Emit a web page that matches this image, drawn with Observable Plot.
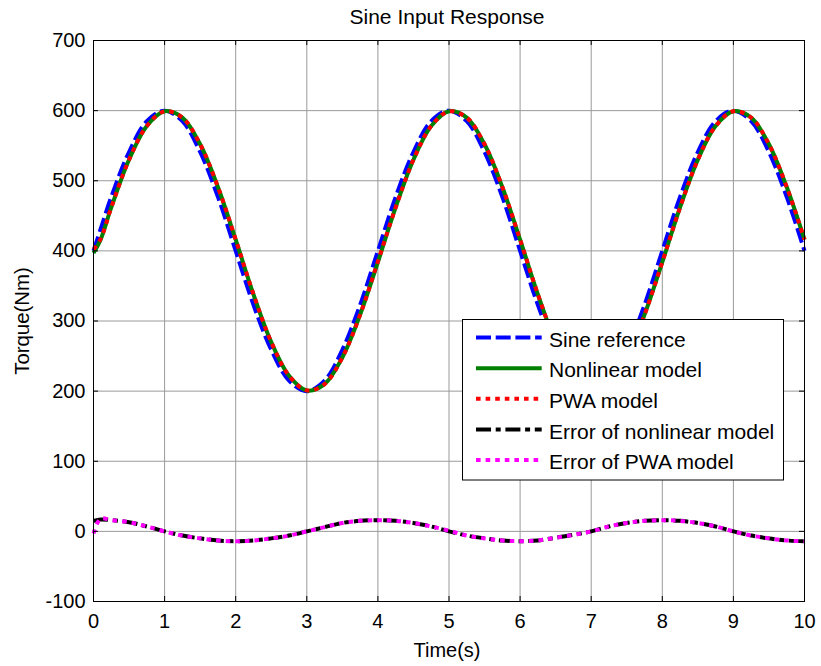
<!DOCTYPE html>
<html><head><meta charset="utf-8">
<script src="https://cdn.jsdelivr.net/npm/d3@7"></script>
<script src="https://cdn.jsdelivr.net/npm/@observablehq/plot@0.6"></script>
<style>html,body{margin:0;padding:0;background:#fff;}</style>
</head><body><div id="chart"></div>
<script>
const title = "Sine Input Response";
const xLabel = "Time(s)";
const yLabel = "Torque(Nm)";
const xTicks = [0,1,2,3,4,5,6,7,8,9,10];
const yTicks = [-100,0,100,200,300,400,500,600,700];

const times = [0,0.1,0.25,0.5,0.75,1,1.25,1.5,1.75,2,2.25,2.5,2.75,3,3.25,3.5,3.75,4,4.25,4.5,4.75,5,5.25,5.5,5.75,6,6.25,6.5,6.75,7,7.25,7.5,7.75,8,8.25,8.5,8.75,9,9.25,9.5,9.75,10];
const sineRef = [400,431,477,541,585,600,585,541,477,400,323,259,215,200,215,259,323,400,477,541,585,600,585,541,477,400,323,259,215,200,215,259,323,400,477,541,585,600,585,541,477,400];
const nonlinearModel = [397,416,462,530,578,599,590,552,491,416,338,270,222,201,210,248,309,384,462,530,578,599,590,552,491,416,338,270,222,201,210,248,309,384,462,530,578,599,590,552,491,416];
const pwaModel = [402,417,462,530,578,599,590,552,491,416,338,270,222,201,210,248,309,385,462,530,578,599,590,552,491,416,338,270,222,201,210,248,309,384,462,530,578,599,590,552,491,416];
const errNonlinear = [15,17,16,13,7,0,-6,-10,-13,-14,-13,-10,-6,0,6,12,15,16,15,12,7,0,-6,-10,-13,-14,-13,-9,-5,0,7,12,15,16,15,12,7,0,-6,-10,-13,-14];
const errPwa = [-3,18,16,13,7,0,-6,-10,-13,-14,-13,-10,-6,0,6,12,15,16,15,12,7,1,-6,-10,-13,-14,-13,-9,-5,0,7,12,15,16,15,12,7,0,-6,-10,-13,-14];

const seriesNames = ["Sine reference","Nonlinear model","PWA model","Error of nonlinear model","Error of PWA model"];
const seriesValues = [sineRef, nonlinearModel, pwaModel, errNonlinear, errPwa];
const seriesColors = ["#0000ff","#008000","#ff0000","#000000","#ff00ff"];
const seriesDashes = ["15,4.7", null, "4.6,5", "15,4.7,5,4.7", "4.6,5"];

const W = 821, H = 666, mL = 93, mR = 17, mT = 40, mB = 65;
const innerW = W - mL - mR, innerH = H - mT - mB;
const FONT = "'Liberation Sans', Arial, Helvetica, sans-serif";

const lineMarks = seriesValues.map((vals, i) => Plot.line(times.map((t, j) => ({t, v: vals[j]})), {
  x: "t", y: "v", stroke: seriesColors[i], strokeWidth: 4, strokeLinecap: "butt",
  strokeLinejoin: "round", strokeDasharray: seriesDashes[i], curve: "catmull-rom"
}));

const chart = Plot.plot({
  width: W, height: H, marginLeft: mL, marginRight: mR, marginTop: mT, marginBottom: mB,
  style: {fontFamily: FONT, fontSize: "20px", background: "#fff", color: "#000"},
  x: {domain: [0, 10]},
  y: {domain: [-100, 700]},
  marks: [
    Plot.gridX(xTicks, {stroke: "#9a9a9a", strokeOpacity: 1, strokeWidth: 1}),
    Plot.gridY(yTicks, {stroke: "#9a9a9a", strokeOpacity: 1, strokeWidth: 1}),
    ...lineMarks,
    Plot.tickX(xTicks, {x: d => d, stroke: "#000", insetBottom: innerH - 5}),
    Plot.tickX(xTicks, {x: d => d, stroke: "#000", insetTop: innerH - 5}),
    Plot.tickY(yTicks, {y: d => d, stroke: "#000", insetRight: innerW - 5}),
    Plot.tickY(yTicks, {y: d => d, stroke: "#000", insetLeft: innerW - 5}),
    Plot.frame({stroke: "#000", strokeWidth: 1}),
    Plot.axisX(xTicks, {tickSize: 0, tickPadding: 12, tickFormat: d => String(d), label: null, fontSize: 20}),
    Plot.axisY(yTicks, {tickSize: 0, tickPadding: 8, tickFormat: d => String(d), label: null, fontSize: 20}),
    Plot.text([title], {text: d => d, frameAnchor: "top", lineAnchor: "bottom", textAnchor: "middle", dy: -16.7, dx: -2, fontSize: 21, fill: "#000"}),
    Plot.text([xLabel], {text: d => d, frameAnchor: "bottom", lineAnchor: "bottom", textAnchor: "middle", dy: 55, dx: -2, fontSize: 20, fill: "#000"}),
    Plot.text([yLabel], {text: d => d, frameAnchor: "left", lineAnchor: "bottom", textAnchor: "middle", rotate: -90, dx: -65, fontSize: 20.4, fill: "#000"})
  ]
});

// legend box inside the axes
const svg = d3.select(chart);
const lg = svg.append("g").attr("font-family", FONT).attr("font-size", 21).attr("text-anchor", "start");
lg.append("rect").attr("x", 462.5).attr("y", 319.5).attr("width", 321).attr("height", 160.5)
  .attr("fill", "#fff").attr("stroke", "#000").attr("stroke-width", 1);
seriesNames.forEach((name, i) => {
  const yy = 337.5 + i * 30.65;
  const ln = lg.append("line").attr("x1", 476).attr("x2", 541.7).attr("y1", yy).attr("y2", yy)
    .attr("stroke", seriesColors[i]).attr("stroke-width", 4).attr("stroke-linecap", "butt");
  if (seriesDashes[i]) ln.attr("stroke-dasharray", seriesDashes[i]);
  lg.append("text").attr("x", 549).attr("y", yy + 9.2).attr("fill", "#000").attr("text-anchor", "start").text(name);
});

document.getElementById("chart").appendChild(chart);
</script>
</body></html>
